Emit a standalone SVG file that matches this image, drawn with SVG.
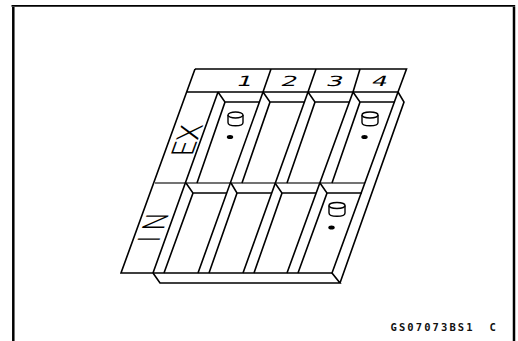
<svg xmlns="http://www.w3.org/2000/svg" width="518" height="341" viewBox="0 0 518 341">
<style>
.l{fill:none;stroke:#000;stroke-width:1.6;stroke-linejoin:miter}
.m{fill:none;stroke:#444;stroke-width:1.6}
.f{fill:none;stroke:#000;stroke-width:2.5}
.t{font-family:"Roboto","Liberation Sans",sans-serif;font-weight:300;fill:#000;font-size:10px}
.d{font-family:"DejaVu Sans",sans-serif;font-weight:400;fill:#000;font-size:10px}
.c{fill:#fff;stroke:#000;stroke-width:1.4}
.code{font-family:"DejaVu Sans Mono",monospace;font-weight:700;font-size:10.500px;letter-spacing:2.1px;fill:#111}
</style>
<rect width="518" height="341" fill="#fff"/>
<g id="frame"><path class="f" d="M13.300 341V7M514 341V7"/><path fill="none" stroke="#000" stroke-width="1.7" d="M11.500 5.800H515.200"/></g>
<g id="connectors">
<path class="l" d="M195 69H406.500L398 92H187M195 69L121 273H332M271 69L263 92M316 69L308 92M360 69L353 92"/>
<path class="m" d="M155 183H365"/>
<path class="l" d="M398 92L332 273L340 283H160L153 273M398 92L404 102L340 283"/>
<path class="l" d="M218 92L153 273M218 92L225 102L197 183M225 102H259M263 92L198 273M263 92L270 102L242 183M270 102H304M308 92L243 273M308 92L315 102L287 183M315 102H349M353 92L287 273M353 92L360 102L332 183M360 102H394"/>
<path class="l" d="M186 183L193 193L164 273M193 193H227M231 183L237 193L209 273M237 193H272M275 183L282 193L254 273M282 193H316M320 183L327 193L298 273M327 193H362"/>
</g>
<g id="header">
<text class="d" text-anchor="middle" transform="matrix(2.5 0 -.5 1.4 243.500 86)">1</text>
<text class="d" text-anchor="middle" transform="matrix(2.6 0 -.5 1.4 288 86)">2</text>
<text class="d" text-anchor="middle" transform="matrix(2.6 0 -.5 1.4 333.500 86)">3</text>
<text class="d" text-anchor="middle" transform="matrix(2.5 0 -.5 1.4 378.500 86)">4</text>
</g>
<g id="ex"><text class="t" transform="matrix(.97 -2.7 3.07 0 192 156)">EX</text></g>
<g id="in"><text class="t" letter-spacing="2.5" transform="matrix(.85 -2.36 3.1 0 158.800 242.200)">IN</text></g>
<g id="cyl1">
<path class="c" d="M228 115V122.500C228 124.500 231 125.800 235.500 125.800S243 124.500 243 122.500V115"/><ellipse class="c" cx="235.500" cy="115" rx="7.500" ry="3"/><ellipse cx="230" cy="137" rx="3.200" ry="2"/>
</g>
<g id="cyl2">
<path class="c" d="M362 115V122.500C362 124.500 365 125.800 370 125.800S378 124.500 378 122.500V115"/><ellipse class="c" cx="370" cy="115" rx="8" ry="3"/><ellipse cx="364.500" cy="137" rx="3.200" ry="2"/>
</g>
<g id="cyl3">
<path class="c" d="M329 205.500V213C329 215 332 216.300 337 216.300S345 215 345 213V205.500"/><ellipse class="c" cx="337" cy="205.500" rx="8" ry="3"/><ellipse cx="331.500" cy="227.500" rx="3.200" ry="2"/>
</g>
<g id="code"><text class="code" y="331"><tspan x="390.500">GS07073BS1</tspan><tspan x="489.500">C</tspan></text></g>
</svg>
